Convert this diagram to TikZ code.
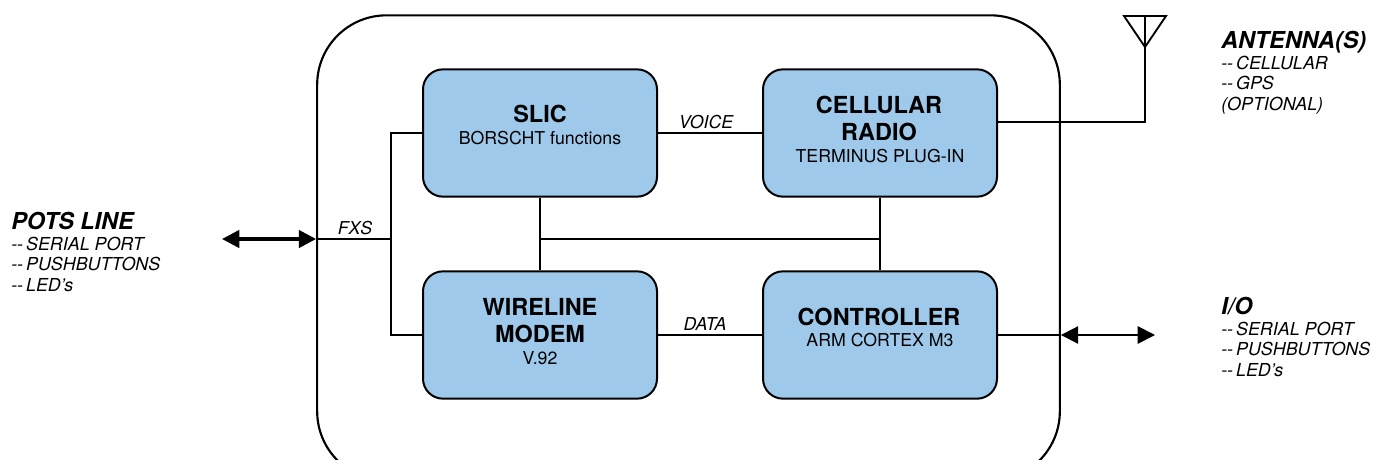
\documentclass[tikz,border=0pt]{standalone}
\usepackage{fontspec}
\setmainfont{TeX Gyre Heros}
\usetikzlibrary{arrows.meta}
\definecolor{boxblue}{HTML}{9FC9EB}
\newcommand{\dd}{-{}-\hspace{-1.5pt}}
\tikzset{
  x=0.75pt,y=-0.75pt,
  wire/.style={draw=black,line width=1.4pt},
  outerbox/.style={draw=black,line width=1.6pt,rounded corners=52pt,minimum width=557pt,minimum height=349pt,inner sep=0pt},
  block/.style={draw=black,fill=boxblue,line width=1.5pt,rounded corners=15pt,minimum width=175.5pt,minimum height=95.5pt,inner sep=0pt},
  blocktitle/.style={font=\fontsize{17.6}{21}\selectfont\bfseries,align=center,inner sep=0pt},
  blocksub/.style={font=\fontsize{13.3}{16}\selectfont,align=center,inner sep=0pt},
  wirelabel/.style={font=\fontsize{13.3}{16}\selectfont\itshape,inner sep=0pt},
  sidetitle/.style={font=\fontsize{17.5}{20}\selectfont\bfseries\itshape,anchor=base west,inner sep=0pt},
  sidelist/.style={font=\fontsize{13.4}{15.4}\selectfont\itshape,anchor=north west,align=left,inner sep=0pt},
  bigarrow/.style={wire,line width=2.6pt,{Triangle[length=13pt,width=13pt]}-{Triangle[length=13pt,width=13pt]}},
  smallarrow/.style={wire,{Triangle[length=13pt,width=13pt]}-{Triangle[length=13pt,width=13pt]}},
}
\begin{document}
\begin{tikzpicture}
\useasboundingbox (0,0) rectangle (1374,460);
\clip (0,0) rectangle (1374,460);
\node[outerbox] (outer) at (688.5,248) {};
\node[block] (slic) at (540,133) {};
\node[block] (radio) at (880,133) {};
\node[block] (modem) at (540,335) {};
\node[block] (ctrl) at (880,335) {};

\node[blocktitle] (t1) at (540,114) {SLIC};
\node[blocksub] (s1) at (540,138.5) {BORSCHT functions};
\node[blocktitle] (t2a) at (879,104.5) {CELLULAR};
\node[blocktitle] (t2b) at (879,132) {RADIO};
\node[blocksub] (s2) at (880,156) {TERMINUS PLUG-IN};
\node[blocktitle] (t3a) at (540,306.5) {WIRELINE};
\node[blocktitle] (t3b) at (540,334) {MODEM};
\node[blocksub] (s3) at (540,358) {V.92};
\node[blocktitle] (t4) at (879,316.5) {CONTROLLER};
\node[blocksub] (s4) at (880,340.5) {ARM CORTEX M3};

\node[wirelabel] (voice) at (706,122) {VOICE};
\node[wirelabel] (data) at (705,324) {DATA};
\node[wirelabel] (fxs) at (355,228.5) {FXS};

\coordinate (fxsin) at (outer.west |- 0,239);
\coordinate (bus) at (391,239);
\draw[wire] (fxsin) -- (bus);
\draw[wire] (slic.west) -- (bus |- slic.west) -- (bus |- modem.west) -- (modem.west);
\draw[wire] (slic.east) -- (radio.west);
\draw[wire] (modem.east) -- (ctrl.west);
\draw[wire] (slic.south) -- (modem.north);
\draw[wire] (radio.south) -- (ctrl.north);
\coordinate (midl) at (540,239);
\coordinate (midr) at (880,239);
\draw[wire] (midl) -- (midr);

\coordinate (anttip) at (1145,47);
\coordinate (anttop) at (1145,16);
\coordinate (antl) at (1124,16);
\coordinate (antr) at (1166,16);
\coordinate (radout) at (radio.east |- 0,122);
\draw[wire] (radout) -- (anttip |- radout) -- (anttop);
\draw[wire,line join=miter] (antl) -- (antr) -- (anttip) -- cycle;

\coordinate (potsend) at (222,239);
\draw[bigarrow] (potsend) -- (fxsin);
\coordinate (ioin) at (outer.east |- ctrl.east);
\coordinate (ioend) at (1155,335);
\draw[wire] (ctrl.east) -- (ioin);
\draw[smallarrow] (ioin) -- (ioend);

\node[sidetitle] (pots) at (11,229.5) {POTS LINE};
\node[sidelist] (potsl) at (11,236.5) {\dd{} SERIAL PORT\\\dd{} PUSHBUTTONS\\\dd{} LED's};
\node[sidetitle] (ant) at (1221,48.5) {ANTENNA(S)};
\node[sidelist] (antl2) at (1221,55.5) {\dd{} CELLULAR\\\dd{} GPS\\(OPTIONAL)};
\node[sidetitle] (io) at (1221,314.5) {I/O};
\node[sidelist] (iol) at (1221,321.5) {\dd{} SERIAL PORT\\\dd{} PUSHBUTTONS\\\dd{} LED's};
\end{tikzpicture}
\end{document}
